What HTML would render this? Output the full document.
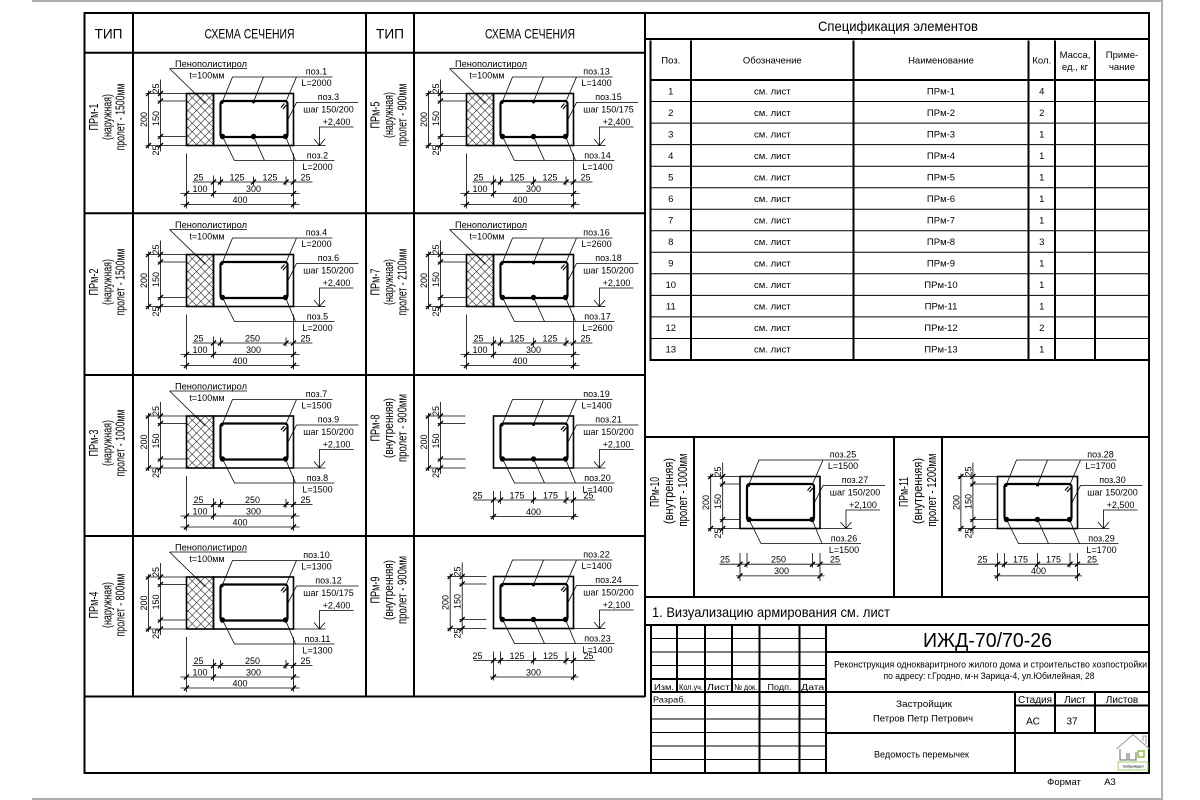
<!DOCTYPE html>
<html><head><meta charset="utf-8">
<style>
html,body{margin:0;padding:0;background:#fff;}
svg{display:block;}
text{font-family:"Liberation Sans","DejaVu Sans",sans-serif;fill:#000;}
.s{font-size:9px;text-anchor:middle;}
.m{text-anchor:middle;}
.lb{font-size:13px;text-anchor:middle;}
.t{font-size:9.5px;text-anchor:middle;}
</style></head><body>
<svg width="1200" height="800" viewBox="0 0 1200 800" xmlns="http://www.w3.org/2000/svg">
<defs>
 <pattern id="hatch" width="8.5" height="8.5" patternUnits="userSpaceOnUse">
  <path d="M0,0L8.5,8.5M8.5,0L0,8.5" stroke="#222" stroke-width="0.6"/>
 </pattern>
 <g id="c3" fill="none" stroke="#000">
  <rect x="0" y="0" width="80" height="52" stroke-width="1.6"/>
  <rect x="7" y="7.5" width="67" height="36" rx="2.5" stroke-width="2.2"/>
  <path d="M67.5,14L71,10M69.5,15.5L73,11.5" stroke-width="1.2"/>
  <path stroke-width="0.8" d="M8.5,9L19,-16.5H119M40,8.5L50,-16.5M72,9L83,-16.5M74,27L83,9H145M80,52H112M106,52V33.5H140M100.5,45.5L106,52L111.5,45.5M9,43L21,67H121M40,43L51,67M72,43L82,67"/>
  <g fill="#000" stroke="none"><circle cx="8.5" cy="9" r="1.5"/><circle cx="40" cy="8.5" r="1.5"/><circle cx="9" cy="43" r="2.7"/><circle cx="40" cy="43" r="2.7"/><circle cx="72" cy="43" r="2.7"/></g>
 </g>
 <g id="c2" fill="none" stroke="#000">
  <rect x="0" y="0" width="80" height="52" stroke-width="1.6"/>
  <rect x="7" y="7.5" width="67" height="36" rx="2.5" stroke-width="2.2"/>
  <path d="M67.5,14L71,10M69.5,15.5L73,11.5" stroke-width="1.2"/>
  <path stroke-width="0.8" d="M8.5,9L19,-16.5H119M72,9L83,-16.5M74,27L83,9H145M80,52H112M106,52V33.5H140M100.5,45.5L106,52L111.5,45.5M9,43L21,67H121M72,43L82,67"/>
  <g fill="#000" stroke="none"><circle cx="8.5" cy="9" r="1.5"/><circle cx="9" cy="43" r="2.7"/><circle cx="72" cy="43" r="2.7"/></g>
 </g>
 <g id="ins">
  <rect x="-27" y="0" width="27" height="52" fill="url(#hatch)" stroke="#000" stroke-width="1.6"/>
  <path d="M-44,-25H33.5M-44,-25L-8,10" fill="none" stroke="#000" stroke-width="0.8"/>
  <path d="M-68,0H-27M-68,52H-27M-56,7.5H-27M-56,43H-27" fill="none" stroke="#000" stroke-width="0.8"/>
 </g>
 <g id="dl" fill="none" stroke="#000">
  <path stroke-width="0.8" d="M0,-3V55M12,-14V58"/>
  <path stroke-width="1.4" d="M-2.5,2.5L2.5,-2.5M-2.5,54.5L2.5,49.5M9.5,2.5L14.5,-2.5M9.5,10L14.5,5M9.5,45.5L14.5,40.5M9.5,54.5L14.5,49.5"/>
 </g>
 <g id="dbi3" fill="none" stroke="#000">
  <path stroke-width="0.8" d="M-27,60V115M80,60V115M0,82V104M7,83V92M40,83V92M72.5,83V92M-21,88.5H99M-33,100H86M-33,111H86"/>
  <path stroke-width="1.4" d="M-2.5,91L2.5,86M4.5,91L9.5,86M37.5,91L42.5,86M70,91L75,86M77.5,91L82.5,86M-29.5,102.5L-24.5,97.5M-2.5,102.5L2.5,97.5M77.5,102.5L82.5,97.5M-29.5,113.5L-24.5,108.5M77.5,113.5L82.5,108.5"/>
 </g>
 <g id="dbi2" fill="none" stroke="#000">
  <path stroke-width="0.8" d="M-27,60V115M80,60V115M0,82V104M7,83V92M72.5,83V92M-21,88.5H99M-33,100H86M-33,111H86"/>
  <path stroke-width="1.4" d="M-2.5,91L2.5,86M4.5,91L9.5,86M70,91L75,86M77.5,91L82.5,86M-29.5,102.5L-24.5,97.5M-2.5,102.5L2.5,97.5M77.5,102.5L82.5,97.5M-29.5,113.5L-24.5,108.5M77.5,113.5L82.5,108.5"/>
 </g>
 <g id="dbn3a" fill="none" stroke="#000">
  <path stroke-width="0.8" d="M0,75V104M80,75V104M7,75V88M40,75V88M72.5,75V88M-20,84H101.5M-3.5,100.5H85"/>
  <path stroke-width="1.4" d="M-2.5,86.5L2.5,81.5M4.5,86.5L9.5,81.5M37.5,86.5L42.5,81.5M70,86.5L75,81.5M77.5,86.5L82.5,81.5M-2.5,103L2.5,98M77.5,103L82.5,98"/>
 </g>
 <g id="dbn3b" fill="none" stroke="#000">
  <path stroke-width="0.8" d="M0,76.5V104.5M80,76.5V104.5M7,76.5V91M40,76.5V91M72.5,76.5V91M-20.5,87.7H101M-4,99.4H84.5"/>
  <path stroke-width="1.4" d="M-2.5,90.2L2.5,85.2M4.5,90.2L9.5,85.2M37.5,90.2L42.5,85.2M70,90.2L75,85.2M77.5,90.2L82.5,85.2M-2.5,101.9L2.5,96.9M77.5,101.9L82.5,96.9"/>
 </g>
 <g id="dbn2b" fill="none" stroke="#000">
  <path stroke-width="0.8" d="M0,76.5V104.5M80,76.5V104.5M7,76.5V91M72.5,76.5V91M-20.5,87.7H101M-4,99.4H84.5"/>
  <path stroke-width="1.4" d="M-2.5,90.2L2.5,85.2M4.5,90.2L9.5,85.2M70,90.2L75,85.2M77.5,90.2L82.5,85.2M-2.5,101.9L2.5,96.9M77.5,101.9L82.5,96.9"/>
 </g>
</defs>

<!-- sheet border -->
<path d="M32,1H1162V799H32" fill="none" stroke="#b0b0b0" stroke-width="2"/>

<!-- main frame & tables -->
<g fill="none" stroke="#000" stroke-width="2">
 <path d="M84.5,13H1149V773H84.5Z"/>
 <path d="M84.5,52.7H645M84.5,213.3H645M84.5,375H645M84.5,536H645M84.5,696.5H645"/>
 <path d="M133,13V696.5M366,13V696.5M414,13V696.5M645,13V697"/>
 <path d="M645,39H1149"/>
 <path d="M650.5,40.5V360H1149M650.5,80H1149M691,40.5V360M853.5,40.5V360M1028.5,40.5V360M1055,40.5V360M1095,40.5V360"/>
 <path d="M645,437H1149M645,597H1149M645,625H1149"/>
 <path d="M694,437V597M894,437V597M942,437V597"/>
 <path d="M651,625V773M677,625V692M705,625V773M732,625V692M759.5,625V773M799.5,625V773M826,625V773"/>
 <path d="M651,679H826M651,692H1149M826,652H1149M826,733H1149M1015,692V773M1055,692V733M1095,692V733M1015,705.5H1149"/>
</g>
<g fill="none" stroke="#000" stroke-width="1">
 <path d="M650.5,101.5H1149M650.5,123.1H1149M650.5,144.6H1149M650.5,166.2H1149M650.5,187.7H1149M650.5,209.2H1149M650.5,230.8H1149M650.5,252.3H1149M650.5,273.8H1149M650.5,295.4H1149M650.5,316.9H1149M650.5,338.5H1149"/>
 <path d="M651,638.5H826M651,652H826M651,665.5H826M651,705.5H826M651,719H826M651,732.5H826M651,746H826M651,759.5H826"/>
</g>

<!-- headers -->
<g font-size="14" class="m">
 <text x="108.5" y="38.5" class="m" textLength="28" lengthAdjust="spacingAndGlyphs">ТИП</text>
 <text x="249.5" y="38.5" class="m" textLength="90" lengthAdjust="spacingAndGlyphs">СХЕМА СЕЧЕНИЯ</text>
 <text x="390" y="38.5" class="m" textLength="28" lengthAdjust="spacingAndGlyphs">ТИП</text>
 <text x="530" y="38.5" class="m" textLength="90" lengthAdjust="spacingAndGlyphs">СХЕМА СЕЧЕНИЯ</text>
 <text x="898" y="31" class="m" textLength="160" lengthAdjust="spacingAndGlyphs">Спецификация элементов</text>
</g>

<!-- type labels -->
<g class="lb">
 <text class="lb" transform="translate(98,117) rotate(-90)" textLength="27" lengthAdjust="spacingAndGlyphs">ПРм-1</text>
 <text class="lb" transform="translate(111.5,117) rotate(-90)" textLength="46" lengthAdjust="spacingAndGlyphs">(наружная)</text>
 <text class="lb" transform="translate(124.5,117) rotate(-90)" textLength="67" lengthAdjust="spacingAndGlyphs">пролет - 1500мм</text>

 <text class="lb" transform="translate(98,282) rotate(-90)" textLength="27" lengthAdjust="spacingAndGlyphs">ПРм-2</text>
 <text class="lb" transform="translate(111.5,282) rotate(-90)" textLength="46" lengthAdjust="spacingAndGlyphs">(наружная)</text>
 <text class="lb" transform="translate(124.5,282) rotate(-90)" textLength="67" lengthAdjust="spacingAndGlyphs">пролет - 1500мм</text>

 <text class="lb" transform="translate(98,443) rotate(-90)" textLength="27" lengthAdjust="spacingAndGlyphs">ПРм-3</text>
 <text class="lb" transform="translate(111.5,443) rotate(-90)" textLength="46" lengthAdjust="spacingAndGlyphs">(наружная)</text>
 <text class="lb" transform="translate(124.5,443) rotate(-90)" textLength="67" lengthAdjust="spacingAndGlyphs">пролет - 1000мм</text>

 <text class="lb" transform="translate(98,605) rotate(-90)" textLength="27" lengthAdjust="spacingAndGlyphs">ПРм-4</text>
 <text class="lb" transform="translate(111.5,605) rotate(-90)" textLength="46" lengthAdjust="spacingAndGlyphs">(наружная)</text>
 <text class="lb" transform="translate(124.5,605) rotate(-90)" textLength="63" lengthAdjust="spacingAndGlyphs">пролет - 800мм</text>

 <text class="lb" transform="translate(379.5,115) rotate(-90)" textLength="27" lengthAdjust="spacingAndGlyphs">ПРм-5</text>
 <text class="lb" transform="translate(393,115) rotate(-90)" textLength="46" lengthAdjust="spacingAndGlyphs">(наружная)</text>
 <text class="lb" transform="translate(406.5,115) rotate(-90)" textLength="63" lengthAdjust="spacingAndGlyphs">пролет - 900мм</text>

 <text class="lb" transform="translate(379.5,282) rotate(-90)" textLength="27" lengthAdjust="spacingAndGlyphs">ПРм-7</text>
 <text class="lb" transform="translate(393,282) rotate(-90)" textLength="46" lengthAdjust="spacingAndGlyphs">(наружная)</text>
 <text class="lb" transform="translate(406.5,282) rotate(-90)" textLength="67" lengthAdjust="spacingAndGlyphs">пролет - 2100мм</text>

 <text class="lb" transform="translate(379.5,428) rotate(-90)" textLength="27" lengthAdjust="spacingAndGlyphs">ПРм-8</text>
 <text class="lb" transform="translate(393,428) rotate(-90)" textLength="60" lengthAdjust="spacingAndGlyphs">(внутренняя)</text>
 <text class="lb" transform="translate(406.5,428) rotate(-90)" textLength="68" lengthAdjust="spacingAndGlyphs">пролет - 900мм</text>

 <text class="lb" transform="translate(379.5,590) rotate(-90)" textLength="27" lengthAdjust="spacingAndGlyphs">ПРм-9</text>
 <text class="lb" transform="translate(393,590) rotate(-90)" textLength="60" lengthAdjust="spacingAndGlyphs">(внутренняя)</text>
 <text class="lb" transform="translate(406.5,590) rotate(-90)" textLength="68" lengthAdjust="spacingAndGlyphs">пролет - 900мм</text>

 <text class="lb" transform="translate(659,492) rotate(-90)" textLength="30" lengthAdjust="spacingAndGlyphs">ПРм-10</text>
 <text class="lb" transform="translate(673,491) rotate(-90)" textLength="66" lengthAdjust="spacingAndGlyphs">(внутренняя)</text>
 <text class="lb" transform="translate(687,490) rotate(-90)" textLength="73" lengthAdjust="spacingAndGlyphs">пролет - 1000мм</text>

 <text class="lb" transform="translate(908,492) rotate(-90)" textLength="30" lengthAdjust="spacingAndGlyphs">ПРм-11</text>
 <text class="lb" transform="translate(922,491) rotate(-90)" textLength="66" lengthAdjust="spacingAndGlyphs">(внутренняя)</text>
 <text class="lb" transform="translate(936,490) rotate(-90)" textLength="73" lengthAdjust="spacingAndGlyphs">пролет - 1200мм</text>
</g>

<!-- ПРм-1 -->
<g transform="translate(213.5,93.5)">
 <use href="#ins"/><use href="#c3"/><use href="#dl" x="-65"/><use href="#dbi3"/>
 <text class="s" x="-2.5" y="-26.5" textLength="72" lengthAdjust="spacingAndGlyphs">Пенополистирол</text>
 <text class="s" x="-6.5" y="-15">t=100мм</text>
 <text class="s" x="103" y="-19">поз.1</text><text class="s" x="103" y="-7.5">L=2000</text>
 <text class="s" x="115" y="6.5">поз.3</text><text class="s" x="115" y="19">шаг 150/200</text>
 <text class="s" x="123" y="31.5">+2,400</text>
 <text class="s" x="104" y="65">поз.2</text><text class="s" x="104" y="76.5">L=2000</text>
 <text class="s" transform="translate(-66.5,26) rotate(-90)">200</text>
 <text class="s" transform="translate(-54.5,25) rotate(-90)">150</text>
 <text class="s" transform="translate(-54.5,-5) rotate(-90)">25</text>
 <text class="s" transform="translate(-54.5,57) rotate(-90)">25</text>
 <text class="s" x="-15" y="87">25</text><text class="s" x="23.5" y="87">125</text><text class="s" x="56.5" y="87">125</text><text class="s" x="92" y="87">25</text>
 <text class="s" x="-13.5" y="98.5">100</text><text class="s" x="40" y="98.5">300</text>
 <text class="s" x="26.5" y="109.5">400</text>
</g>

<!-- ПРм-5 -->
<g transform="translate(493.5,93.5)">
 <use href="#ins"/><use href="#c3"/><use href="#dl" x="-65"/><use href="#dbi3"/>
 <text class="s" x="-2.5" y="-26.5" textLength="72" lengthAdjust="spacingAndGlyphs">Пенополистирол</text>
 <text class="s" x="-6.5" y="-15">t=100мм</text>
 <text class="s" x="103" y="-19">поз.13</text><text class="s" x="103" y="-7.5">L=1400</text>
 <text class="s" x="115" y="6.5">поз.15</text><text class="s" x="115" y="19">шаг 150/175</text>
 <text class="s" x="123" y="31.5">+2,400</text>
 <text class="s" x="104" y="65">поз.14</text><text class="s" x="104" y="76.5">L=1400</text>
 <text class="s" transform="translate(-66.5,26) rotate(-90)">200</text>
 <text class="s" transform="translate(-54.5,25) rotate(-90)">150</text>
 <text class="s" transform="translate(-54.5,-5) rotate(-90)">25</text>
 <text class="s" transform="translate(-54.5,57) rotate(-90)">25</text>
 <text class="s" x="-15" y="87">25</text><text class="s" x="23.5" y="87">125</text><text class="s" x="56.5" y="87">125</text><text class="s" x="92" y="87">25</text>
 <text class="s" x="-13.5" y="98.5">100</text><text class="s" x="40" y="98.5">300</text>
 <text class="s" x="26.5" y="109.5">400</text>
</g>

<!-- ПРм-2 -->
<g transform="translate(213.5,254.5)">
 <use href="#ins"/><use href="#c2"/><use href="#dl" x="-65"/><use href="#dbi2"/>
 <text class="s" x="-2.5" y="-26.5" textLength="72" lengthAdjust="spacingAndGlyphs">Пенополистирол</text>
 <text class="s" x="-6.5" y="-15">t=100мм</text>
 <text class="s" x="103" y="-19">поз.4</text><text class="s" x="103" y="-7.5">L=2000</text>
 <text class="s" x="115" y="6.5">поз.6</text><text class="s" x="115" y="19">шаг 150/200</text>
 <text class="s" x="123" y="31.5">+2,400</text>
 <text class="s" x="104" y="65">поз.5</text><text class="s" x="104" y="76.5">L=2000</text>
 <text class="s" transform="translate(-66.5,26) rotate(-90)">200</text>
 <text class="s" transform="translate(-54.5,25) rotate(-90)">150</text>
 <text class="s" transform="translate(-54.5,-5) rotate(-90)">25</text>
 <text class="s" transform="translate(-54.5,57) rotate(-90)">25</text>
 <text class="s" x="-15" y="87">25</text><text class="s" x="39" y="87">250</text><text class="s" x="92" y="87">25</text>
 <text class="s" x="-13.5" y="98.5">100</text><text class="s" x="40" y="98.5">300</text>
 <text class="s" x="26.5" y="109.5">400</text>
</g>

<!-- ПРм-7 -->
<g transform="translate(493.5,254.5)">
 <use href="#ins"/><use href="#c3"/><use href="#dl" x="-65"/><use href="#dbi3"/>
 <text class="s" x="-2.5" y="-26.5" textLength="72" lengthAdjust="spacingAndGlyphs">Пенополистирол</text>
 <text class="s" x="-6.5" y="-15">t=100мм</text>
 <text class="s" x="103" y="-19">поз.16</text><text class="s" x="103" y="-7.5">L=2600</text>
 <text class="s" x="115" y="6.5">поз.18</text><text class="s" x="115" y="19">шаг 150/200</text>
 <text class="s" x="123" y="31.5">+2,100</text>
 <text class="s" x="104" y="65">поз.17</text><text class="s" x="104" y="76.5">L=2600</text>
 <text class="s" transform="translate(-66.5,26) rotate(-90)">200</text>
 <text class="s" transform="translate(-54.5,25) rotate(-90)">150</text>
 <text class="s" transform="translate(-54.5,-5) rotate(-90)">25</text>
 <text class="s" transform="translate(-54.5,57) rotate(-90)">25</text>
 <text class="s" x="-15" y="87">25</text><text class="s" x="23.5" y="87">125</text><text class="s" x="56.5" y="87">125</text><text class="s" x="92" y="87">25</text>
 <text class="s" x="-13.5" y="98.5">100</text><text class="s" x="40" y="98.5">300</text>
 <text class="s" x="26.5" y="109.5">400</text>
</g>

<!-- ПРм-3 -->
<g transform="translate(213.5,416)">
 <use href="#ins"/><use href="#c2"/><use href="#dl" x="-65"/><use href="#dbi2"/>
 <text class="s" x="-2.5" y="-26.5" textLength="72" lengthAdjust="spacingAndGlyphs">Пенополистирол</text>
 <text class="s" x="-6.5" y="-15">t=100мм</text>
 <text class="s" x="103" y="-19">поз.7</text><text class="s" x="103" y="-7.5">L=1500</text>
 <text class="s" x="115" y="6.5">поз.9</text><text class="s" x="115" y="19">шаг 150/200</text>
 <text class="s" x="123" y="31.5">+2,100</text>
 <text class="s" x="104" y="65">поз.8</text><text class="s" x="104" y="76.5">L=1500</text>
 <text class="s" transform="translate(-66.5,26) rotate(-90)">200</text>
 <text class="s" transform="translate(-54.5,25) rotate(-90)">150</text>
 <text class="s" transform="translate(-54.5,-5) rotate(-90)">25</text>
 <text class="s" transform="translate(-54.5,57) rotate(-90)">25</text>
 <text class="s" x="-15" y="87">25</text><text class="s" x="39" y="87">250</text><text class="s" x="92" y="87">25</text>
 <text class="s" x="-13.5" y="98.5">100</text><text class="s" x="40" y="98.5">300</text>
 <text class="s" x="26.5" y="109.5">400</text>
</g>

<!-- ПРм-8 -->
<g transform="translate(493.5,416)">
 <use href="#c3"/><use href="#dl" x="-65"/><use href="#dbn3a"/>
 <path d="M-68,0H-28M-68,52H-28M-56,7.5H-28M-56,43H-28" fill="none" stroke="#000" stroke-width="0.8"/>
 <text class="s" x="103" y="-19">поз.19</text><text class="s" x="103" y="-7.5">L=1400</text>
 <text class="s" x="115" y="6.5">поз.21</text><text class="s" x="115" y="19">шаг 150/200</text>
 <text class="s" x="123" y="31.5">+2,100</text>
 <text class="s" x="104" y="65">поз.20</text><text class="s" x="104" y="76.5">L=1400</text>
 <text class="s" transform="translate(-66.5,26) rotate(-90)">200</text>
 <text class="s" transform="translate(-54.5,25) rotate(-90)">150</text>
 <text class="s" transform="translate(-54.5,-5) rotate(-90)">25</text>
 <text class="s" transform="translate(-54.5,57) rotate(-90)">25</text>
 <text class="s" x="-16" y="82.5">25</text><text class="s" x="23.5" y="82.5">175</text><text class="s" x="57" y="82.5">175</text><text class="s" x="95" y="82.5">25</text>
 <text class="s" x="40" y="99">400</text>
</g>

<!-- ПРм-4 -->
<g transform="translate(213.5,577)">
 <use href="#ins"/><use href="#c2"/><use href="#dl" x="-65"/><use href="#dbi2"/>
 <text class="s" x="-2.5" y="-26.5" textLength="72" lengthAdjust="spacingAndGlyphs">Пенополистирол</text>
 <text class="s" x="-6.5" y="-15">t=100мм</text>
 <text class="s" x="103" y="-19">поз.10</text><text class="s" x="103" y="-7.5">L=1300</text>
 <text class="s" x="115" y="6.5">поз.12</text><text class="s" x="115" y="19">шаг 150/175</text>
 <text class="s" x="123" y="31.5">+2,400</text>
 <text class="s" x="104" y="65">поз.11</text><text class="s" x="104" y="76.5">L=1300</text>
 <text class="s" transform="translate(-66.5,26) rotate(-90)">200</text>
 <text class="s" transform="translate(-54.5,25) rotate(-90)">150</text>
 <text class="s" transform="translate(-54.5,-5) rotate(-90)">25</text>
 <text class="s" transform="translate(-54.5,57) rotate(-90)">25</text>
 <text class="s" x="-15" y="87">25</text><text class="s" x="39" y="87">250</text><text class="s" x="92" y="87">25</text>
 <text class="s" x="-13.5" y="98.5">100</text><text class="s" x="40" y="98.5">300</text>
 <text class="s" x="26.5" y="109.5">400</text>
</g>

<!-- ПРм-9 -->
<g transform="translate(493.5,576.5)">
 <use href="#c3"/><use href="#dl" x="-43.3"/><use href="#dbn3a"/>
 <path d="M-46.3,0H-7M-46.3,52H-7M-34.3,7.5H-7M-34.3,43H-7" fill="none" stroke="#000" stroke-width="0.8"/>
 <text class="s" x="103" y="-19">поз.22</text><text class="s" x="103" y="-7.5">L=1400</text>
 <text class="s" x="115" y="6.5">поз.24</text><text class="s" x="115" y="19">шаг 150/200</text>
 <text class="s" x="123" y="31.5">+2,100</text>
 <text class="s" x="104" y="65">поз.23</text><text class="s" x="104" y="76.5">L=1400</text>
 <text class="s" transform="translate(-44.8,26) rotate(-90)">200</text>
 <text class="s" transform="translate(-32.8,25) rotate(-90)">150</text>
 <text class="s" transform="translate(-32.8,-5) rotate(-90)">25</text>
 <text class="s" transform="translate(-32.8,57) rotate(-90)">25</text>
 <text class="s" x="-16" y="82.5">25</text><text class="s" x="23.5" y="82.5">125</text><text class="s" x="57" y="82.5">125</text><text class="s" x="95" y="82.5">25</text>
 <text class="s" x="40" y="99">300</text>
</g>

<!-- ПРм-10 -->
<g transform="translate(740,476.5)">
 <use href="#c2"/><use href="#dl" x="-29.3"/><use href="#dbn2b"/>
 <path d="M-32.3,0H0M-32.3,52H0M-20.3,7.5H0M-20.3,43H0" fill="none" stroke="#000" stroke-width="0.8"/>
 <text class="s" x="103" y="-19">поз.25</text><text class="s" x="103" y="-7.5">L=1500</text>
 <text class="s" x="115" y="6.5">поз.27</text><text class="s" x="115" y="19">шаг 150/200</text>
 <text class="s" x="123" y="31.5">+2,100</text>
 <text class="s" x="104" y="65">поз.26</text><text class="s" x="104" y="76.5">L=1500</text>
 <text class="s" transform="translate(-30.8,26) rotate(-90)">200</text>
 <text class="s" transform="translate(-18.8,25) rotate(-90)">150</text>
 <text class="s" transform="translate(-18.8,-5) rotate(-90)">25</text>
 <text class="s" transform="translate(-18.8,57) rotate(-90)">25</text>
 <text class="s" x="-15" y="86">25</text><text class="s" x="38.5" y="86">250</text><text class="s" x="95" y="86">25</text>
 <text class="s" x="41.5" y="97.7">300</text>
</g>

<!-- ПРм-11 -->
<g transform="translate(997.5,476.5)">
 <use href="#c3"/><use href="#dl" x="-36.6"/><use href="#dbn3b"/>
 <path d="M-39.6,0H0M-39.6,52H0M-27.6,7.5H0M-27.6,43H0" fill="none" stroke="#000" stroke-width="0.8"/>
 <text class="s" x="103" y="-19">поз.28</text><text class="s" x="103" y="-7.5">L=1700</text>
 <text class="s" x="115" y="6.5">поз.30</text><text class="s" x="115" y="19">шаг 150/200</text>
 <text class="s" x="123" y="31.5">+2,500</text>
 <text class="s" x="104" y="65">поз.29</text><text class="s" x="104" y="76.5">L=1700</text>
 <text class="s" transform="translate(-38.1,26) rotate(-90)">200</text>
 <text class="s" transform="translate(-26.1,25) rotate(-90)">150</text>
 <text class="s" transform="translate(-26.1,-5) rotate(-90)">25</text>
 <text class="s" transform="translate(-26.1,57) rotate(-90)">25</text>
 <text class="s" x="-15" y="86">25</text><text class="s" x="23" y="86">175</text><text class="s" x="56" y="86">175</text><text class="s" x="94.5" y="86">25</text>
 <text class="s" x="41" y="97.7">400</text>
</g>

<!-- spec table header -->
<g class="t">
 <text class="t" x="670.8" y="63.5">Поз.</text>
 <text class="t" x="772.3" y="63.5">Обозначение</text>
 <text class="t" x="941" y="63.5">Наименование</text>
 <text class="t" x="1041.8" y="63.5">Кол.</text>
 <text class="t" x="1075" y="58">Масса,</text>
 <text class="t" x="1075" y="70">ед., кг</text>
 <text class="t" x="1122" y="58">Приме-</text>
 <text class="t" x="1122" y="70">чание</text>
</g>
<!-- spec rows -->
<g class="t">
 <text class="t" x="670.8" y="94.3">1</text><text class="t" x="772.3" y="94.3">см. лист</text><text class="t" x="941" y="94.3">ПРм-1</text><text class="t" x="1041.8" y="94.3">4</text>
 <text class="t" x="670.8" y="115.8">2</text><text class="t" x="772.3" y="115.8">см. лист</text><text class="t" x="941" y="115.8">ПРм-2</text><text class="t" x="1041.8" y="115.8">2</text>
 <text class="t" x="670.8" y="137.3">3</text><text class="t" x="772.3" y="137.3">см. лист</text><text class="t" x="941" y="137.3">ПРм-3</text><text class="t" x="1041.8" y="137.3">1</text>
 <text class="t" x="670.8" y="158.9">4</text><text class="t" x="772.3" y="158.9">см. лист</text><text class="t" x="941" y="158.9">ПРм-4</text><text class="t" x="1041.8" y="158.9">1</text>
 <text class="t" x="670.8" y="180.4">5</text><text class="t" x="772.3" y="180.4">см. лист</text><text class="t" x="941" y="180.4">ПРм-5</text><text class="t" x="1041.8" y="180.4">1</text>
 <text class="t" x="670.8" y="202">6</text><text class="t" x="772.3" y="202">см. лист</text><text class="t" x="941" y="202">ПРм-6</text><text class="t" x="1041.8" y="202">1</text>
 <text class="t" x="670.8" y="223.5">7</text><text class="t" x="772.3" y="223.5">см. лист</text><text class="t" x="941" y="223.5">ПРм-7</text><text class="t" x="1041.8" y="223.5">1</text>
 <text class="t" x="670.8" y="245">8</text><text class="t" x="772.3" y="245">см. лист</text><text class="t" x="941" y="245">ПРм-8</text><text class="t" x="1041.8" y="245">3</text>
 <text class="t" x="670.8" y="266.6">9</text><text class="t" x="772.3" y="266.6">см. лист</text><text class="t" x="941" y="266.6">ПРм-9</text><text class="t" x="1041.8" y="266.6">1</text>
 <text class="t" x="670.8" y="288.1">10</text><text class="t" x="772.3" y="288.1">см. лист</text><text class="t" x="941" y="288.1">ПРм-10</text><text class="t" x="1041.8" y="288.1">1</text>
 <text class="t" x="670.8" y="309.7">11</text><text class="t" x="772.3" y="309.7">см. лист</text><text class="t" x="941" y="309.7">ПРм-11</text><text class="t" x="1041.8" y="309.7">1</text>
 <text class="t" x="670.8" y="331.2">12</text><text class="t" x="772.3" y="331.2">см. лист</text><text class="t" x="941" y="331.2">ПРм-12</text><text class="t" x="1041.8" y="331.2">2</text>
 <text class="t" x="670.8" y="352.7">13</text><text class="t" x="772.3" y="352.7">см. лист</text><text class="t" x="941" y="352.7">ПРм-13</text><text class="t" x="1041.8" y="352.7">1</text>
</g>

<!-- note -->
<text x="652" y="617" font-size="14" textLength="238" lengthAdjust="spacingAndGlyphs">1. Визуализацию армирования см. лист</text>

<!-- title block -->
<text x="987.5" y="647" font-size="20" class="m" textLength="129" lengthAdjust="spacingAndGlyphs">ИЖД-70/70-26</text>
<text x="990.5" y="667.5" font-size="9.5" class="m" textLength="313" lengthAdjust="spacingAndGlyphs">Реконструкция однокваритрного жилого дома и строительство хозпостройки</text>
<text x="989" y="679" font-size="9.5" class="m" textLength="211" lengthAdjust="spacingAndGlyphs">по адресу: г.Гродно, м-н Зарица-4, ул.Юбилейная, 28</text>
<text x="924" y="707" font-size="9.5" class="m" textLength="56" lengthAdjust="spacingAndGlyphs">Застройщик</text>
<text x="923" y="721.5" font-size="9.5" class="m" textLength="100" lengthAdjust="spacingAndGlyphs">Петров Петр Петрович</text>
<text x="1035" y="703" font-size="10" class="m">Стадия</text>
<text x="1075" y="703" font-size="10" class="m">Лист</text>
<text x="1122" y="703" font-size="10" class="m">Листов</text>
<text x="1033" y="724.5" font-size="10" class="m">АС</text>
<text x="1072" y="724.5" font-size="10" class="m">37</text>
<text x="921.5" y="757.5" font-size="9.5" class="m" textLength="95" lengthAdjust="spacingAndGlyphs">Ведомость перемычек</text>
<g font-size="8.5">
 <text x="664" y="690" class="m" textLength="20" lengthAdjust="spacingAndGlyphs">Изм.</text>
 <text x="691" y="690" class="m" textLength="24" lengthAdjust="spacingAndGlyphs">Кол.уч.</text>
 <text x="718.5" y="690" class="m" textLength="23" lengthAdjust="spacingAndGlyphs">Лист</text>
 <text x="745.7" y="690" class="m" textLength="23" lengthAdjust="spacingAndGlyphs">№ док.</text>
 <text x="779.5" y="690" class="m" textLength="24" lengthAdjust="spacingAndGlyphs">Подп.</text>
 <text x="812.7" y="690" class="m" textLength="23" lengthAdjust="spacingAndGlyphs">Дата</text>
 <text x="653" y="702.5" textLength="33" lengthAdjust="spacingAndGlyphs">Разраб.</text>
</g>
<text x="1064" y="785" font-size="9.5" class="m">Формат</text>
<text x="1110" y="785" font-size="9.5" class="m">А3</text>

<!-- logo -->
<g transform="translate(1116,733)">
 <path d="M0.5,16L17,1.5L33.5,16" fill="none" stroke="#999" stroke-width="1"/>
 <path d="M27,8V3H30V11" fill="none" stroke="#999" stroke-width="1"/>
 <path d="M4,16V27H11V20M13,20V27H20V19" fill="none" stroke="#888" stroke-width="1.3"/>
 <rect x="22" y="18" width="6" height="6" fill="none" stroke="#8dc63f" stroke-width="1.5"/>
 <rect x="2" y="29" width="30" height="8" fill="#fff" stroke="#8dc63f" stroke-width="0.8"/>
 <text x="17" y="34.5" font-size="3.5" class="m">твойдомвдел</text>
</g>
</svg>
</body></html>
